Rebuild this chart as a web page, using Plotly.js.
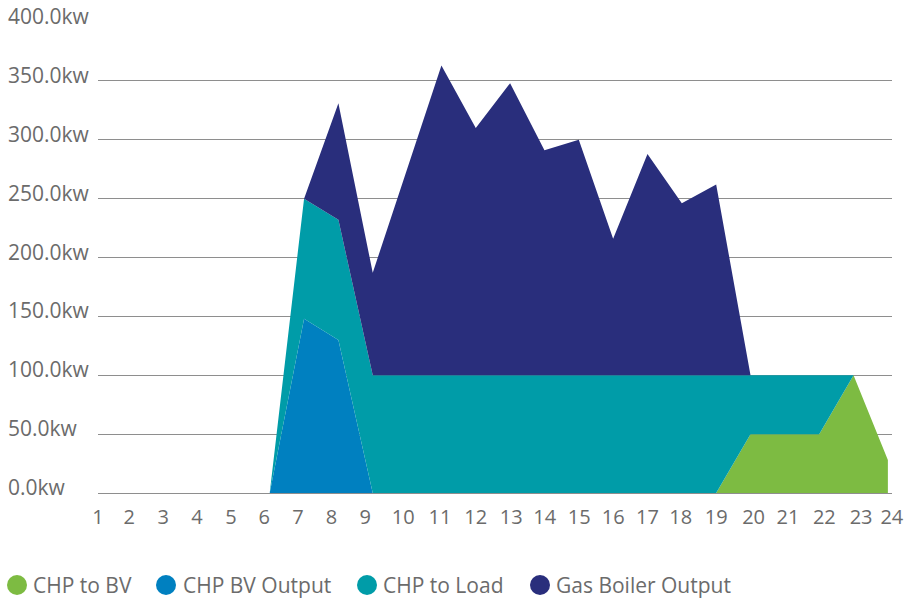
<!DOCTYPE html>
<html>
<head>
<meta charset="utf-8">
<script src="https://cdn.plot.ly/plotly-3.0.1.min.js"></script>
<style>html,body{margin:0;padding:0;background:#fff;}#chart{width:907px;height:599px;}</style>
</head>
<body>
<div id="chart"></div>
<script>
// ---- data ----
var hours = [1,2,3,4,5,6,7,8,9,10,11,12,13,14,15,16,17,18,19,20,21,22,23,24];
var hourLabels = ["1","2","3","4","5","6","7","8","9","10","11","12","13","14","15","16","17","18","19","20","21","22","23","24"];
var chpToBV       = [0,0,0,0,0,0,0,0,0,0,0,0,0,0,0,0,0,0,0,50,50,50,100,28];
var chpBVOutput   = [0,0,0,0,0,0,148,130,0,0,0,0,0,0,0,0,0,0,0,0,0,0,0,0];
var chpToLoad     = [0,0,0,0,0,0,102,102,100,100,100,100,100,100,100,100,100,100,100,50,50,50,0,0];
var gasBoiler     = [0,0,0,0,0,0,0,99,87,175,263,210,248,191,200,116,188,146,162,0,0,0,0,0];
var seriesNames   = ["CHP to BV","CHP BV Output","CHP to Load","Gas Boiler Output"];
var seriesColors  = ["#7dbb42","#0080c0","#009ca8","#292e7c"];
var yTickValues   = [0,50,100,150,200,250,300,350,400];
// label placement offsets (in hour units) as observed in the reference
var tickShift = [0,-0.09,-0.1,-0.12,-0.125,-0.16,-0.18,-0.2,-0.22,-0.11,-0.04,0,0.03,0.01,0.01,0,0,-0.03,0,0.09,0.09,0.15,0.22,0.115];

// ---- layout geometry ----
var W = 907, H = 599, ML = 98, MR = 15, MT = 22, MB = 106;
var PW = W - ML - MR, PH = H - MT - MB;
function px(x){ return (x - ML) / PW; }
function py(y){ return (H - MB - y) / PH; }
var textColor = "#6b6b6b";
var font = "Open Sans, Noto Sans, sans-serif";

var allSeries = [chpToBV, chpBVOutput, chpToLoad, gasBoiler];
var traces = allSeries.map(function(vals, i){
  return {
    type: "scatter", mode: "lines", x: hours, y: vals,
    name: seriesNames[i], stackgroup: "one",
    line: {width: 0, color: seriesColors[i]},
    fillcolor: seriesColors[i], showlegend: false, hoverinfo: "x+y+name"
  };
});

var annotations = yTickValues.map(function(v){
  return {
    xref: "paper", yref: "y", x: px(6), y: v, xanchor: "left", yanchor: "middle",
    yshift: 6, text: v.toFixed(1) + "kw", showarrow: false,
    font: {family: font, size: 21, color: textColor}
  };
});

var legendCirclesX = [17, 166, 367, 540];
var legendTextX = [31, 181, 381, 554];
var legendY = 585;
var shapes = [];
seriesNames.forEach(function(n, i){
  shapes.push({
    type: "circle", xref: "paper", yref: "paper",
    xsizemode: "pixel", ysizemode: "pixel",
    xanchor: px(legendCirclesX[i]), yanchor: py(legendY),
    x0: -10, x1: 10, y0: -10, y1: 10,
    fillcolor: seriesColors[i], line: {width: 0}
  });
  annotations.push({
    xref: "paper", yref: "paper", x: px(legendTextX[i]), y: py(legendY),
    xanchor: "left", yanchor: "middle", showarrow: false, text: n,
    font: {family: font, size: 21, color: textColor}
  });
});

var layout = {
  width: W, height: H,
  margin: {l: ML, r: MR, t: MT, b: MB, pad: 0},
  paper_bgcolor: "#fff", plot_bgcolor: "#fff",
  showlegend: false,
  xaxis: {
    range: [1, 24.12], showgrid: false, zeroline: false, showline: false,
    tickmode: "array",
    tickvals: hours.map(function(h, i){ return h + tickShift[i]; }),
    ticktext: hourLabels, ticks: "", ticklabelstandoff: 10,
    tickfont: {family: font, size: 20, color: textColor}
  },
  yaxis: {
    range: [0, 400], tickvals: yTickValues, showticklabels: false,
    showgrid: true, gridcolor: "#8e8e8e", gridwidth: 1,
    zeroline: true, zerolinecolor: "#8e8e8e", zerolinewidth: 1,
    showline: false, ticks: ""
  },
  annotations: annotations,
  shapes: shapes
};

Plotly.newPlot("chart", traces, layout, {displayModeBar: false, staticPlot: true});
</script>
</body>
</html>
